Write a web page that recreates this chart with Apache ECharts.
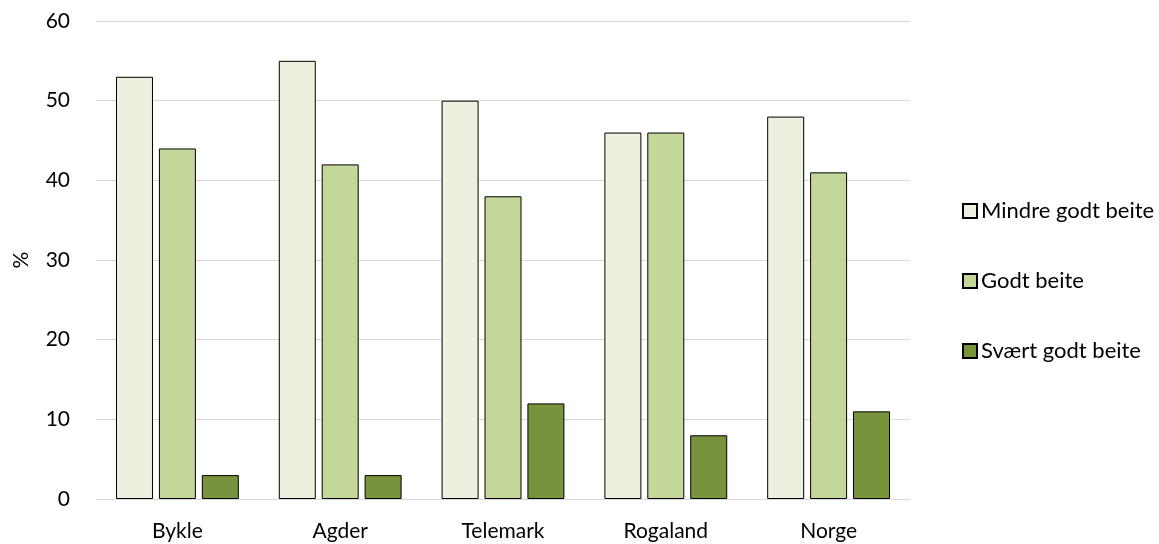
<!DOCTYPE html>
<html>
<head>
<meta charset="utf-8">
<script src="https://cdn.jsdelivr.net/npm/echarts@6/dist/echarts.min.js"></script>
<style>
  html, body { margin: 0; padding: 0; background: #fff; }
  #chart { width: 1159px; height: 544px; }
</style>
</head>
<body>
<div id="chart"></div>
<script>
// Beitekvalitet per område, prosent av areal
const categories = ['Bykle', 'Agder', 'Telemark', 'Rogaland', 'Norge'];
const seriesNames = ['Mindre godt beite', 'Godt beite', 'Svært godt beite'];
const mindreGodt = [53, 55, 50, 46, 48];
const godt = [44, 42, 38, 46, 41];
const svaertGodt = [3, 3, 12, 8, 11];
const colors = ['#EBF1DE', '#C4D79B', '#77933C'];

const FONT = 'Lato, "Open Sans", sans-serif';
const values = [mindreGodt, godt, svaertGodt];

const chart = echarts.init(document.getElementById('chart'));
chart.setOption({
  animation: false,
  textStyle: { fontFamily: FONT },
  grid: {
    left: 96, right: 249, top: 21, bottom: 45,
    containLabel: false,
    outerBoundsMode: 'none'
  },
  legend: {
    orient: 'vertical',
    left: 957,
    top: 195,
    itemGap: 48,
    itemWidth: 14,
    itemHeight: 14,
    icon: 'rect',
    textStyle: { fontFamily: FONT, fontSize: 22, color: '#000', padding: [0, 0, 0, -1] },
    data: seriesNames
  },
  xAxis: {
    type: 'category',
    data: categories,
    axisLine: { lineStyle: { color: '#d9d9d9', width: 1 } },
    axisTick: { show: false },
    axisLabel: { fontFamily: FONT, fontSize: 21, color: '#000', margin: 22 }
  },
  yAxis: {
    type: 'value',
    min: 0,
    max: 60,
    interval: 10,
    name: '%',
    nameLocation: 'middle',
    nameGap: 64,
    nameRotate: 90,
    nameTextStyle: { fontFamily: FONT, fontSize: 21, color: '#000' },
    axisLine: { show: false },
    axisTick: { show: false },
    axisLabel: { fontFamily: FONT, fontSize: 21, color: '#000', margin: 26 },
    splitLine: { lineStyle: { color: '#d9d9d9', width: 1 } }
  },
  series: seriesNames.map((name, i) => ({
    name,
    type: 'bar',
    data: values[i],
    barWidth: 37,
    barGap: '16%',
    itemStyle: { color: colors[i], borderColor: '#000', borderWidth: 1 }
  }))
});
</script>
</body>
</html>
